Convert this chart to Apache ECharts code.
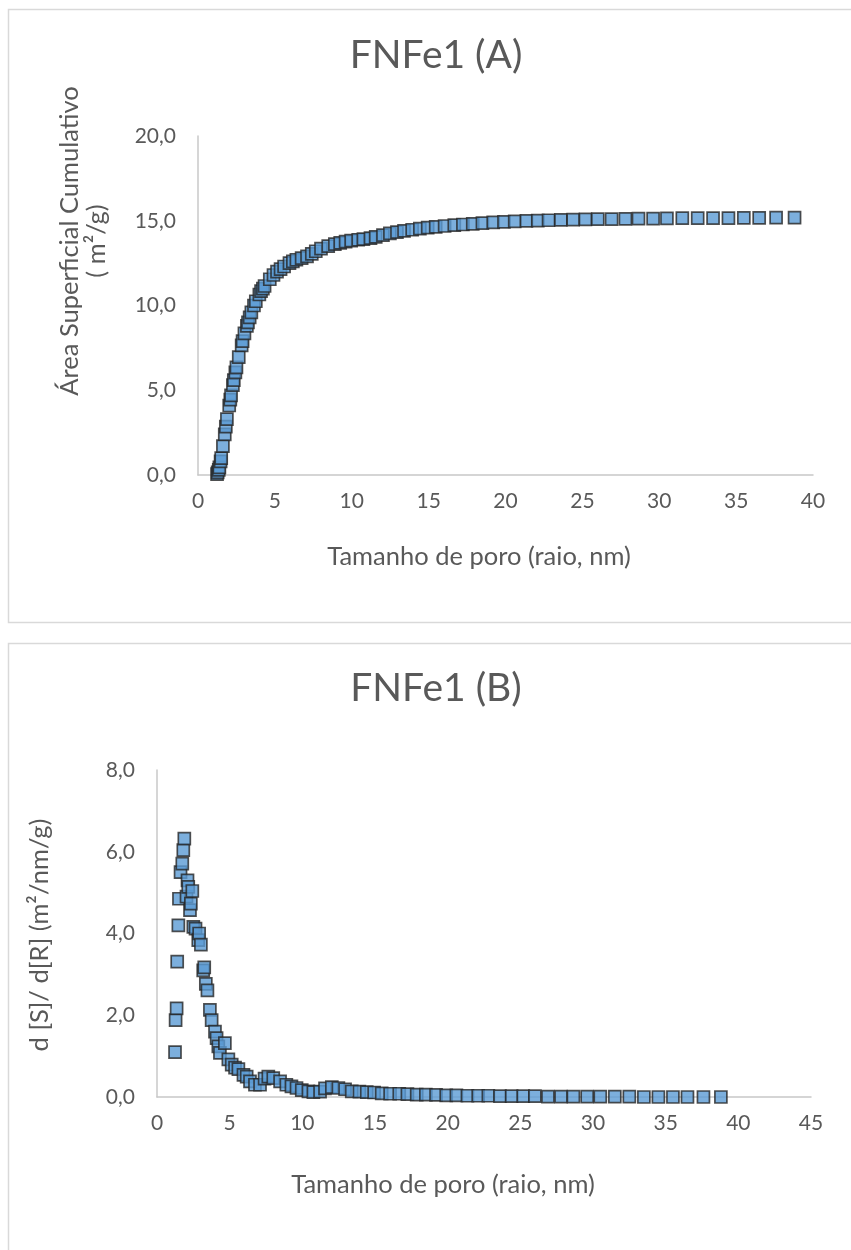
<!DOCTYPE html>
<html>
<head>
<meta charset="utf-8">
<script src="https://cdn.jsdelivr.net/npm/echarts@6/dist/echarts.min.js"></script>
<style>
html,body{margin:0;padding:0;background:#fff;}
#chart{width:851px;height:1250px;}
</style>
</head>
<body>
<div id="chart"></div>
<script>
const titleA = 'FNFe1 (A)';
const titleB = 'FNFe1 (B)';
const xAxisName = 'Tamanho de poro (raio, nm)';
const yNameA1 = 'Área Superficial Cumulativo';
const yNameA2 = '( m²/g)';
const yNameB = 'd [S]/ d[R] (m²/nm/g)';

const poreRadius = [1.24, 1.28, 1.35, 1.39, 1.47, 1.51, 1.62, 1.74, 1.81, 1.88, 2.03, 2.1, 2.15, 2.27, 2.33, 2.43, 2.5, 2.65, 2.84, 2.9, 3.02, 3.18, 3.25, 3.36, 3.47, 3.64, 3.76, 3.99, 4.1, 4.22, 4.33, 4.67, 4.91, 5.14, 5.37, 5.6, 5.95, 6.17, 6.4, 6.74, 7.09, 7.4, 7.66, 8.0, 8.47, 8.9, 9.25, 9.6, 9.96, 10.42, 10.76, 11.22, 11.56, 12.03, 12.48, 12.94, 13.4, 13.93, 14.43, 14.94, 15.46, 16.04, 16.67, 17.23, 17.87, 18.5, 19.2, 19.9, 20.6, 21.36, 22.1, 22.8, 23.6, 24.4, 25.2, 26.0, 26.9, 27.8, 28.65, 29.6, 30.5, 31.5, 32.5, 33.5, 34.5, 35.5, 36.5, 37.6, 38.8];

const cumulativeArea = [0.05, 0.15, 0.3, 0.45, 0.8, 1.0, 1.7, 2.4, 2.85, 3.3, 4.1, 4.45, 4.7, 5.3, 5.6, 6.05, 6.35, 6.95, 7.65, 7.9, 8.35, 8.8, 9.0, 9.3, 9.6, 10.0, 10.25, 10.65, 10.85, 11.0, 11.15, 11.55, 11.8, 12.0, 12.15, 12.3, 12.5, 12.6, 12.7, 12.8, 12.9, 13.05, 13.2, 13.35, 13.5, 13.62, 13.7, 13.77, 13.83, 13.88, 13.92, 13.97, 14.05, 14.15, 14.25, 14.33, 14.4, 14.47, 14.53, 14.59, 14.64, 14.69, 14.74, 14.78, 14.82, 14.86, 14.9, 14.93, 14.96, 14.99, 15.01, 15.03, 15.05, 15.07, 15.08, 15.09, 15.1, 15.11, 15.12, 15.13, 15.14, 15.15, 15.15, 15.16, 15.16, 15.17, 15.17, 15.18, 15.18];

const dSdR = [1.1, 1.88, 2.17, 3.31, 4.2, 4.85, 5.5, 5.71, 6.04, 6.32, 4.9, 5.3, 5.14, 4.57, 4.73, 5.04, 4.16, 4.12, 3.84, 4.0, 3.73, 3.1, 3.17, 2.77, 2.61, 2.13, 1.88, 1.6, 1.44, 1.24, 1.08, 1.32, 0.92, 0.79, 0.72, 0.68, 0.54, 0.5, 0.38, 0.3, 0.3, 0.45, 0.5, 0.46, 0.38, 0.3, 0.26, 0.22, 0.17, 0.14, 0.12, 0.13, 0.21, 0.24, 0.22, 0.19, 0.14, 0.13, 0.12, 0.11, 0.09, 0.08, 0.08, 0.07, 0.06, 0.06, 0.05, 0.04, 0.04, 0.03, 0.03, 0.03, 0.02, 0.02, 0.02, 0.02, 0.01, 0.01, 0.01, 0.01, 0.01, 0.01, 0.01, 0.0, 0.0, 0.0, 0.0, 0.0, 0.0];

const FONT = 'Lato';
const GRAY = '#595959';
const AXIS = '#c8c8c8';
const fmt = v => v.toFixed(1).replace('.', ',');

const chart = echarts.init(document.getElementById('chart'), null, {renderer: 'canvas'});

function mkX(idx, max) {
  return {
    type: 'value', gridIndex: idx, min: 0, max: max, interval: 5,
    axisLine: {show: true, onZero: false, lineStyle: {color: AXIS, width: 1.5}},
    axisTick: {show: false},
    splitLine: {show: false},
    axisLabel: {color: GRAY, fontFamily: FONT, fontSize: 21, margin: 16}
  };
}
function mkY(idx, max, interval) {
  return {
    type: 'value', gridIndex: idx, min: 0, max: max, interval: interval,
    axisLine: {show: true, lineStyle: {color: AXIS, width: 1.5}},
    axisTick: {show: false},
    splitLine: {show: false},
    axisLabel: {color: GRAY, fontFamily: FONT, fontSize: 21, margin: 22, formatter: fmt}
  };
}
const markerStyle = {color: '#5b9bd5', borderColor: '#262626', borderWidth: 1.7};

const option = {
  animation: false,
  backgroundColor: '#ffffff',
  grid: [
    {left: 198, top: 136, width: 615, height: 339},
    {left: 157, top: 770, width: 654, height: 327}
  ],
  xAxis: [mkX(0, 40), mkX(1, 45)],
  yAxis: [mkY(0, 20, 5), mkY(1, 8, 2)],
  series: [
    {type: 'scatter', xAxisIndex: 0, yAxisIndex: 0, symbol: 'rect', symbolSize: 12,
     itemStyle: markerStyle, data: poreRadius.map((x, i) => [x, cumulativeArea[i]])},
    {type: 'scatter', xAxisIndex: 1, yAxisIndex: 1, symbol: 'rect', symbolSize: 12,
     itemStyle: markerStyle, data: poreRadius.map((x, i) => [x, dSdR[i]])}
  ],
  graphic: [
    {type: 'rect', shape: {x: 8.5, y: 9.5, width: 860, height: 613}, style: {fill: 'none', stroke: '#d9d9d9', lineWidth: 1.5}, silent: true},
    {type: 'rect', shape: {x: 8.5, y: 643.5, width: 860, height: 700}, style: {fill: 'none', stroke: '#d9d9d9', lineWidth: 1.5}, silent: true},
    {type: 'text', x: 436, y: 55, style: {text: titleA, fontFamily: FONT, fontSize: 39, fill: GRAY, align: 'center', verticalAlign: 'middle'}},
    {type: 'text', x: 436, y: 688, style: {text: titleB, fontFamily: FONT, fontSize: 39, fill: GRAY, align: 'center', verticalAlign: 'middle'}},
    {type: 'text', x: 479, y: 557, style: {text: xAxisName, fontFamily: FONT, fontSize: 25.5, fill: GRAY, align: 'center', verticalAlign: 'middle'}},
    {type: 'text', x: 443, y: 1185, style: {text: xAxisName, fontFamily: FONT, fontSize: 25.5, fill: GRAY, align: 'center', verticalAlign: 'middle'}},
    {type: 'text', x: 70, y: 241, rotation: Math.PI / 2, style: {text: yNameA1, fontFamily: FONT, fontSize: 25.5, fill: GRAY, align: 'center', verticalAlign: 'middle'}},
    {type: 'text', x: 97, y: 241, rotation: Math.PI / 2, style: {text: yNameA2, fontFamily: FONT, fontSize: 25.5, fill: GRAY, align: 'center', verticalAlign: 'middle'}},
    {type: 'text', x: 40, y: 935, rotation: Math.PI / 2, style: {text: yNameB, fontFamily: FONT, fontSize: 25.5, fill: GRAY, align: 'center', verticalAlign: 'middle'}}
  ]
};
chart.setOption(option);
</script>
</body>
</html>
